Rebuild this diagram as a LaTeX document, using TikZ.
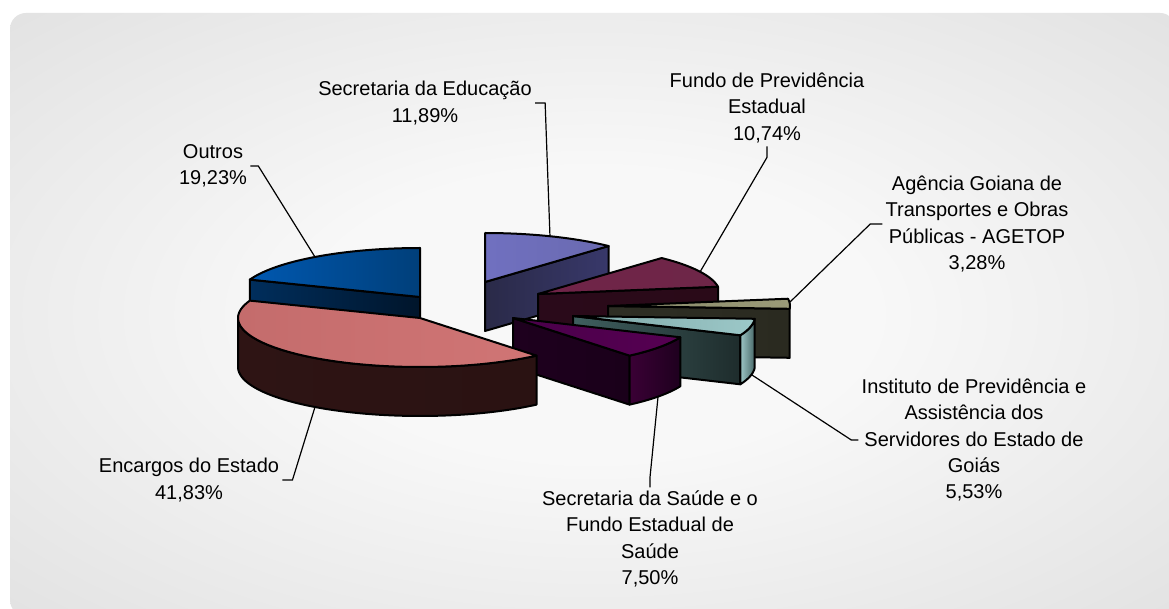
\documentclass[tikz,border=0pt]{standalone}
\usepackage{fontspec}
\setmainfont{Liberation Sans}

\definecolor{bgIn}{HTML}{F8F8F8}
\definecolor{bgOut}{HTML}{D5D5D5}
\pgfdeclareradialshading{bgshade}{\pgfpoint{0bp}{0bp}}{color(0bp)=(bgIn); color(12bp)=(bgIn); color(50bp)=(bgOut); color(80bp)=(bgOut)}

% Outros
\definecolor{outSideL}{HTML}{002E5C}
\definecolor{outSideR}{HTML}{00152B}
\definecolor{outTopL}{HTML}{0058B0}
\definecolor{outTopM}{HTML}{0A70D8}
\definecolor{outTopR}{HTML}{003F7A}
% Educacao
\definecolor{eduSideL}{HTML}{2A2A48}
\definecolor{eduSideM}{HTML}{52528A}
\definecolor{eduSideR}{HTML}{38386A}
\definecolor{eduTopL}{HTML}{7070C0}
\definecolor{eduTopM}{HTML}{9C9CFF}
\definecolor{eduTopR}{HTML}{6A6AB0}
% Fundo
\definecolor{funSideL}{HTML}{2A0A1A}
\definecolor{funSideM}{HTML}{4A1830}
\definecolor{funSideR}{HTML}{2A0A18}
\definecolor{funTopL}{HTML}{702448}
\definecolor{funTopM}{HTML}{9C3468}
\definecolor{funTopR}{HTML}{6E2648}
% AGETOP
\definecolor{ageSideL}{HTML}{2E2E24}
\definecolor{ageSideM}{HTML}{55554A}
\definecolor{ageSideR}{HTML}{2A2A20}
\definecolor{ageTopL}{HTML}{8A8A6A}
\definecolor{ageTopM}{HTML}{FFFFD0}
\definecolor{ageTopR}{HTML}{9A9A78}
% Instituto
\definecolor{insSideL}{HTML}{3F5F5F}
\definecolor{insSideM}{HTML}{668888}
\definecolor{insSideR}{HTML}{1E2C2C}
\definecolor{insRimL}{HTML}{9CC5C5}
\definecolor{insRimR}{HTML}{4A6A6A}
\definecolor{insTopL}{HTML}{7FA8A8}
\definecolor{insTopM}{HTML}{CCFFFF}
\definecolor{insTopR}{HTML}{9CC8C8}
% Saude
\definecolor{sauSideL}{HTML}{1E001E}
\definecolor{sauSideM}{HTML}{3A0038}
\definecolor{sauSideR}{HTML}{1A001A}
\definecolor{sauRimL}{HTML}{3A0035}
\definecolor{sauRimR}{HTML}{1E001E}
\definecolor{sauTopL}{HTML}{4A004A}
\definecolor{sauTopM}{HTML}{70006E}
\definecolor{sauTopR}{HTML}{560052}
% Encargos
\definecolor{encRimL}{HTML}{2E1414}
\definecolor{encRimM}{HTML}{804545}
\definecolor{encRimR}{HTML}{2A1212}
\definecolor{encTopL}{HTML}{C46C6C}
\definecolor{encTopM}{HTML}{FF8484}
\definecolor{encTopR}{HTML}{D07575}

\tikzset{
  face/.style={draw=black, line width=1pt, line join=round},
  leader/.style={draw=black, line width=0.6pt},
  lbl/.style={align=center, inner sep=1.5pt, font=\fontsize{10}{13.2}\selectfont},
}

\begin{document}
\begin{tikzpicture}[x=0.5pt, y=-0.5pt]
        \useasboundingbox (0,0) rectangle (1169,609);
        \fill[white] (0,0) rectangle (1169,609);
        \shade[rounded corners=8pt, shading=bgshade] (10,13) rectangle (1176,616);

        % Outros 19,23%
        \shade[face, left color=outSideL, right color=outSideR] (420,297) -- (249.8,279.6) -- (249.8,328.6) -- (420,346) -- cycle;
        \shade[face, left color=outTopL, middle color=outTopM, right color=outTopR] (420,297) -- plot[domain=90:159.23, samples=40, variable=\x] ({420+182*cos(\x)}, {297-49*sin(\x)}) -- cycle;

        % Secretaria da Educacao 11,89%
        \shade[face, left color=eduSideL, middle color=eduSideM, right color=eduSideR] (485,282) -- (608.6,246) -- (608.6,295) -- (485,331) -- cycle;
        \shade[face, left color=eduTopL, middle color=eduTopM, right color=eduTopR] (485,282) -- plot[domain=47.2:90, samples=40, variable=\x] ({485+182*cos(\x)}, {282-49*sin(\x)}) -- cycle;

        % Fundo de Previdencia Estadual 10,74%
        \shade[face, left color=funSideL, middle color=funSideM, right color=funSideR] (538,294) -- (718,286.7) -- (718,335.7) -- (538,343) -- cycle;
        \shade[face, left color=funTopL, middle color=funTopM, right color=funTopR] (538,294) -- plot[domain=8.54:47.2, samples=40, variable=\x] ({538+182*cos(\x)}, {294-49*sin(\x)}) -- cycle;

        % AGETOP 3,28%
        \shade[face, left color=ageSideL, middle color=ageSideM, right color=ageSideR] (608,306) -- (789.7,308.8) -- (789.7,357.8) -- (608,355) -- cycle;
        \shade[face, left color=ageTopL, middle color=ageTopM, right color=ageTopR] (608,306) -- plot[domain=-3.27:8.54, samples=30, variable=\x] ({608+182*cos(\x)}, {306-49*sin(\x)}) -- cycle;

        % Instituto de Previdencia 5,53%
        \shade[face, left color=insSideL, middle color=insSideM, right color=insSideR] (573,316) -- (740.3,335.3) -- (740.3,384.3) -- (573,365) -- cycle;
        \shade[face, left color=insRimL, right color=insRimR] plot[domain=-23.18:-3.27, samples=20, variable=\x] ({573+182*cos(\x)}, {316-49*sin(\x)}) -- plot[domain=-3.27:-23.18, samples=20, variable=\x] ({573+182*cos(\x)}, {365-49*sin(\x)}) -- cycle;
        \shade[face, left color=insTopL, middle color=insTopM, right color=insTopR] (573,316) -- plot[domain=-23.18:-3.27, samples=30, variable=\x] ({573+182*cos(\x)}, {316-49*sin(\x)}) -- cycle;

        % Secretaria da Saude 7,50%
        \shade[face, left color=sauSideL, middle color=sauSideM, right color=sauSideR] (513,318) -- (629.5,355.6) -- (629.5,404.6) -- (513,367) -- cycle;
        \shade[face, left color=sauRimL, right color=sauRimR] plot[domain=-50.18:-23.18, samples=30, variable=\x] ({513+182*cos(\x)}, {318-49*sin(\x)}) -- plot[domain=-23.18:-50.18, samples=30, variable=\x] ({513+182*cos(\x)}, {367-49*sin(\x)}) -- cycle;
        \shade[face, left color=sauTopL, middle color=sauTopM, right color=sauTopR] (513,318) -- plot[domain=-50.18:-23.18, samples=30, variable=\x] ({513+182*cos(\x)}, {318-49*sin(\x)}) -- cycle;

        % Encargos do Estado 41,83%
        \shade[face, left color=encRimL, middle color=encRimM, right color=encRimR] plot[domain=180:309.82, samples=60, variable=\x] ({420+182*cos(\x)}, {318-49*sin(\x)}) -- plot[domain=309.82:180, samples=60, variable=\x] ({420+182*cos(\x)}, {367-49*sin(\x)}) -- cycle;
        \shade[face, left color=encTopL, middle color=encTopM, right color=encTopR] (420,318) -- plot[domain=159.23:309.82, samples=60, variable=\x] ({420+182*cos(\x)}, {318-49*sin(\x)}) -- cycle;

        % leader ends on the slices
        \coordinate (outTip) at (315,257);
        \coordinate (eduTip) at (550,237);
        \coordinate (funTip) at (700,272);
        \coordinate (ageTip) at (790,302);
        \coordinate (insTip) at (752,375);
        \coordinate (sauTip) at (658,397);
        \coordinate (encTip) at (315,407);

        % labels
        \node[lbl] (lblOut) at (213,166) {Outros\\19,23\%};
        \node[lbl] (lblEdu) at (425,103) {Secretaria da Educação\\11,89\%};
        \node[lbl] (lblFun) at (767,108) {Fundo de Previdência\\Estadual\\10,74\%};
        \node[lbl] (lblAge) at (977,224) {Agência Goiana de\\Transportes e Obras\\Públicas - AGETOP\\3,28\%};
        \node[lbl] (lblIns) at (974,440) {Instituto de Previdência e\\Assistência dos\\Servidores do Estado de\\Goiás\\5,53\%};
        \node[lbl] (lblSau) at (650,539) {Secretaria da Saúde e o\\Fundo Estadual de\\Saúde\\7,50\%};
        \node[lbl] (lblEnc) at (189,480) {Encargos do Estado\\41,83\%};

        \draw[leader] (lblOut.east) -- ++(8,0) -- (outTip);
        \draw[leader] (lblEdu.east) -- ++(10,0) -- (eduTip);
        \draw[leader] (lblFun.south) -- ++(0,11) -- (funTip);
        \draw[leader] (lblAge.west) -- ++(-12,0) -- (ageTip);
        \draw[leader] (lblIns.west) -- ++(-7,0) -- (insTip);
        \draw[leader] (lblSau.north) -- ++(0,-10) -- (sauTip);
        \draw[leader] (lblEnc.east) -- ++(10,0) -- (encTip);
      \end{tikzpicture}
\end{document}
